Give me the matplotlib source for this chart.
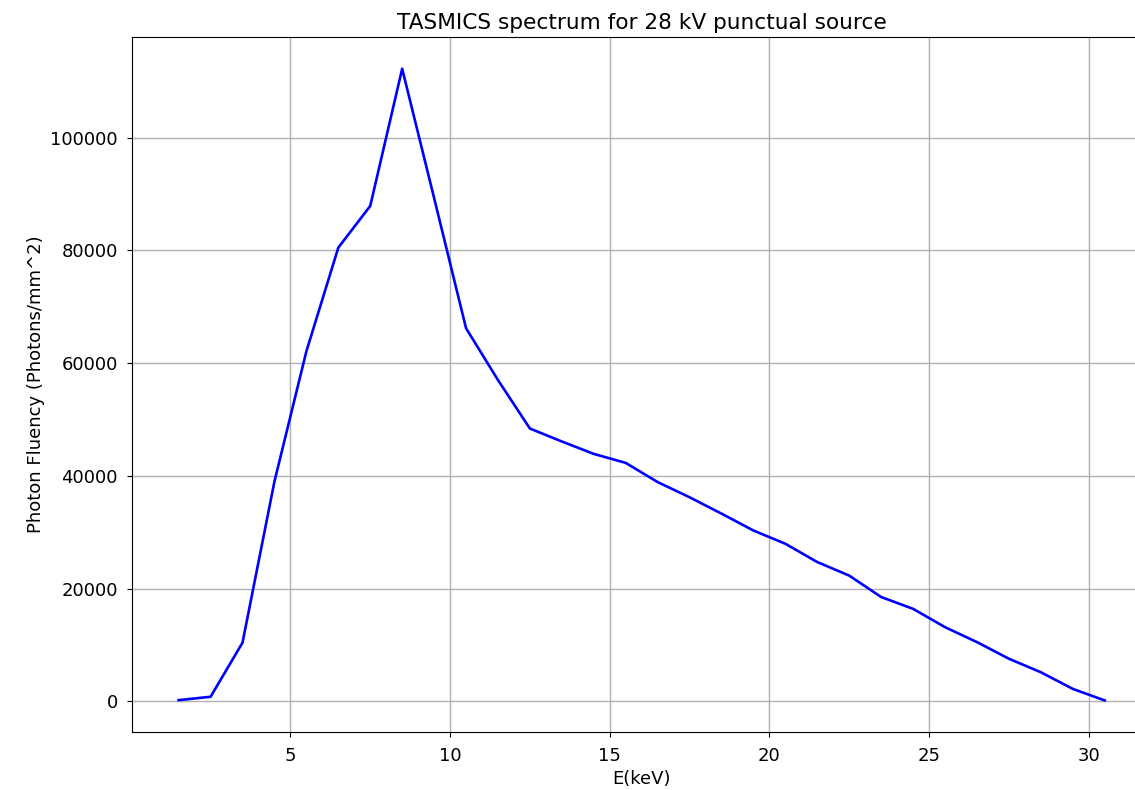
import numpy as np
import matplotlib
matplotlib.use('Agg')
import matplotlib.pyplot as plt

# TASMICS spectrum, 28 kV
energy = [1.5, 2.5, 3.5, 4.5, 5.5, 6.5, 7.5, 8.5, 9.5, 10.5,
          11.5, 12.5, 13.5, 14.5, 15.5, 16.5, 17.5, 18.5, 19.5, 20.5,
          21.5, 22.5, 23.5, 24.5, 25.5, 26.5, 27.5, 28.5, 29.5, 30.5]
fluency = [200, 800, 10400, 39000, 62100, 80500, 87900, 112250, 89300, 66200,
           57000, 48400, 46100, 43900, 42300, 38900, 36200, 33300, 30300, 27950,
           24700, 22300, 18500, 16400, 13150, 10500, 7550, 5150, 2200, 150]

plt.rcParams['font.size'] = 13

# the original screenshot is cut off on the right, so the axes run past the edge
fig = plt.figure(figsize=(11.35, 7.9), dpi=100)
ax = fig.add_axes([0.1166, 0.0734, 0.8975, 0.8796])
ax.plot(energy, fluency, color='blue', linewidth=1.9)
ax.grid(True, linewidth=1.0)
ax.tick_params(pad=7)
ax.set_title('TASMICS spectrum for 28 kV punctual source')
ax.set_xlabel('E(keV)')
ax.set_ylabel('Photon Fluency (Photons/mm^2)')

fig.savefig('out.png', dpi=100)
